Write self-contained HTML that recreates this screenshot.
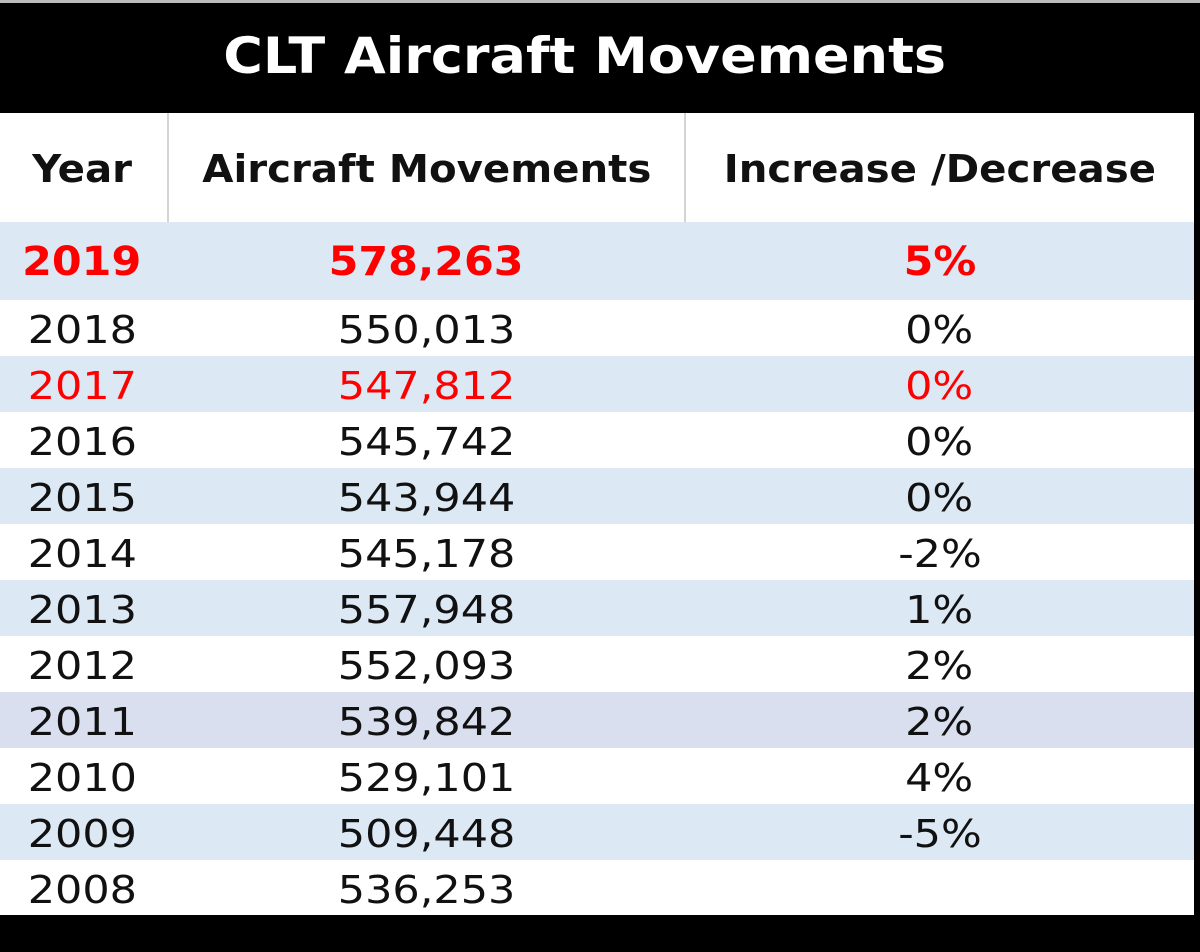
<!DOCTYPE html>
<html><head><meta charset="utf-8"><style>
body{margin:0;width:1200px;height:952px;background:#000;position:relative;overflow:hidden;font-family:"DejaVu Sans","Liberation Sans",sans-serif;}
#top{position:absolute;left:0;top:0;width:1200px;height:3px;background:#bbb;}
#title{position:absolute;left:-12px;top:3px;width:1194px;height:110px;line-height:106px;text-align:center;color:#fff;font-weight:bold;font-size:50px;}
#title span{display:inline-block;transform:scaleX(1.08);}
#tbl{position:absolute;left:0;top:113px;width:1194px;height:802px;background:#fff;}
.row{position:absolute;left:0;width:1194px;}
.c{position:absolute;top:0;height:100%;text-align:center;font-size:38px;color:#111;}
.c span{display:inline-block;transform:scaleX(1.13);}
.c1{left:0;width:164px}.c2{left:168px;width:517px}.c3{left:685px;width:509px}
.hdr .c{font-weight:bold;font-size:38px;}
.hdr .c span{transform:scaleX(1.06);}
.div{position:absolute;top:0;width:2px;height:109px;background:#d4d4d4;}
.blue{background:#dce9f5}.lav{background:#dadff0}
.red .c{color:#f00}.bold .c{font-weight:bold;font-size:40px}
.bold .c span{transform:scaleX(1.07);}
</style></head><body>
<div id="top"></div>
<div id="title"><span>CLT Aircraft Movements</span></div>
<div id="tbl">
<div class="row hdr" style="top:0;height:109px;line-height:112px">
<div class="c c1"><span>Year</span></div>
<div class="c c2"><span>Aircraft Movements</span></div>
<div class="c c3"><span>Increase /Decrease</span></div>
<div class="div" style="left:167px"></div>
<div class="div" style="left:684px"></div>
</div>
<div class="row blue red bold" style="top:109px;height:78px;line-height:80px">
<div class="c c1"><span>2019</span></div><div class="c c2"><span>578,263</span></div><div class="c c3"><span>5%</span></div></div>
<div class="row" style="top:187px;height:56px;line-height:60px"><div class="c c1"><span>2018</span></div><div class="c c2"><span>550,013</span></div><div class="c c3"><span>0%</span></div></div>
<div class="row blue red" style="top:243px;height:56px;line-height:60px"><div class="c c1"><span>2017</span></div><div class="c c2"><span>547,812</span></div><div class="c c3"><span>0%</span></div></div>
<div class="row" style="top:299px;height:56px;line-height:60px"><div class="c c1"><span>2016</span></div><div class="c c2"><span>545,742</span></div><div class="c c3"><span>0%</span></div></div>
<div class="row blue" style="top:355px;height:56px;line-height:60px"><div class="c c1"><span>2015</span></div><div class="c c2"><span>543,944</span></div><div class="c c3"><span>0%</span></div></div>
<div class="row" style="top:411px;height:56px;line-height:60px"><div class="c c1"><span>2014</span></div><div class="c c2"><span>545,178</span></div><div class="c c3"><span>-2%</span></div></div>
<div class="row blue" style="top:467px;height:56px;line-height:60px"><div class="c c1"><span>2013</span></div><div class="c c2"><span>557,948</span></div><div class="c c3"><span>1%</span></div></div>
<div class="row" style="top:523px;height:56px;line-height:60px"><div class="c c1"><span>2012</span></div><div class="c c2"><span>552,093</span></div><div class="c c3"><span>2%</span></div></div>
<div class="row lav" style="top:579px;height:56px;line-height:60px"><div class="c c1"><span>2011</span></div><div class="c c2"><span>539,842</span></div><div class="c c3"><span>2%</span></div></div>
<div class="row" style="top:635px;height:56px;line-height:60px"><div class="c c1"><span>2010</span></div><div class="c c2"><span>529,101</span></div><div class="c c3"><span>4%</span></div></div>
<div class="row blue" style="top:691px;height:56px;line-height:60px"><div class="c c1"><span>2009</span></div><div class="c c2"><span>509,448</span></div><div class="c c3"><span>-5%</span></div></div>
<div class="row" style="top:747px;height:55px;line-height:60px"><div class="c c1"><span>2008</span></div><div class="c c2"><span>536,253</span></div><div class="c c3"></div></div>
</div>
</body></html>
